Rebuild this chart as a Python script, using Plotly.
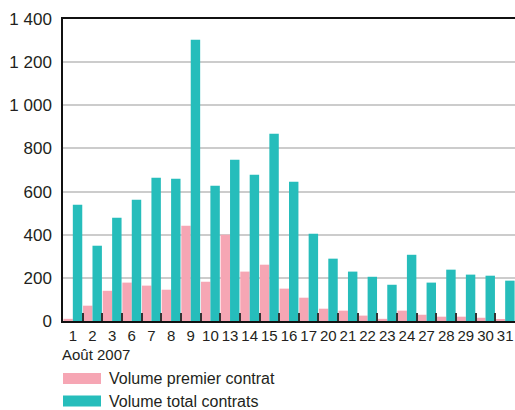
import plotly.graph_objects as go

days = ["1", "2", "3", "6", "7", "8", "9", "10", "13", "14", "15", "16", "17",
        "20", "21", "22", "23", "24", "27", "28", "29", "30", "31"]
premier = [10, 71, 140, 178, 164, 145, 442, 182, 400, 229, 261, 150, 108,
           57, 48, 25, 10, 48, 29, 20, 20, 15, 6]
total = [539, 349, 479, 562, 664, 660, 1304, 627, 748, 678, 868, 646, 405,
         289, 229, 205, 168, 307, 178, 238, 215, 210, 187]
names = ["Volume premier contrat", "Volume total contrats"]
colors = ["#f6a6b4", "#26bdbb"]
period_label = "Août 2007"
y_ticks = [0, 200, 400, 600, 800, 1000, 1200, 1400]

FONT = "Liberation Sans, Arial, Helvetica, sans-serif"
TXT = "#231f20"

# body margin removed via post_script, so figure fills the 515x410 window
W, H = 515, 410
L, T, B = 63, 19, 89
PW, PH = W - L, H - T - B  # 452 x 302

fig = go.Figure()
fig.add_trace(go.Bar(x=days, y=premier, name=names[0], marker_color=colors[0],
                     marker_line_width=0, showlegend=False))
fig.add_trace(go.Bar(x=days, y=total, name=names[1], marker_color=colors[1],
                     marker_line_width=0, showlegend=False))

fig.update_layout(
    width=W, height=H,
    margin=dict(l=L, r=0, t=T, b=B),
    paper_bgcolor="white", plot_bgcolor="white",
    barmode="group", bargap=0.04, bargroupgap=0,
    separators=", ",
    font=dict(family=FONT, color=TXT, size=15),
)
fig.update_xaxes(
    type="category", showline=True, linecolor="#111", linewidth=1.5, mirror=True,
    ticks="inside", tickson="boundaries", ticklen=8, tickcolor="#333", tickwidth=1.5,
    tickfont=dict(size=15, color=TXT), showgrid=False, tickangle=0,
    automargin=False,
)
fig.update_yaxes(
    range=[0, 1400], tickvals=y_ticks, tickformat=",d",
    showline=True, linecolor="#111", linewidth=1.5,
    showgrid=True, gridcolor="#cccccc", gridwidth=1.5,
    zeroline=False, ticks="", ticklabelstandoff=6,
    tickfont=dict(size=17, color=TXT), automargin=False,
)

def py(y_page):
    # convert page pixel y to paper coordinate
    zero = T + PH
    return (zero - y_page) / PH

fig.add_annotation(text=period_label, xref="paper", yref="paper", x=-3 / PW, y=py(354),
                   xanchor="left", yanchor="middle", showarrow=False,
                   font=dict(size=15, color=TXT))

# legend swatches (drawn manually to match wide rectangles)
leg_y = [378.5, 401]
for i in range(2):
    yc = leg_y[i]
    fig.add_shape(type="rect", xref="paper", yref="paper",
                  x0=0, x1=38 / PW,
                  y0=py(yc + 5.5), y1=py(yc - 5.5),
                  fillcolor=colors[i], line_width=0)
    fig.add_annotation(text=names[i], xref="paper", yref="paper",
                       x=44 / PW, y=py(yc),
                       xanchor="left", yanchor="middle", showarrow=False,
                       font=dict(size=16, color=TXT))

fig.write_html(
    "out.html",
    config={"displayModeBar": False},
    post_script="document.body.style.margin='0';document.body.style.overflow='hidden';",
)
